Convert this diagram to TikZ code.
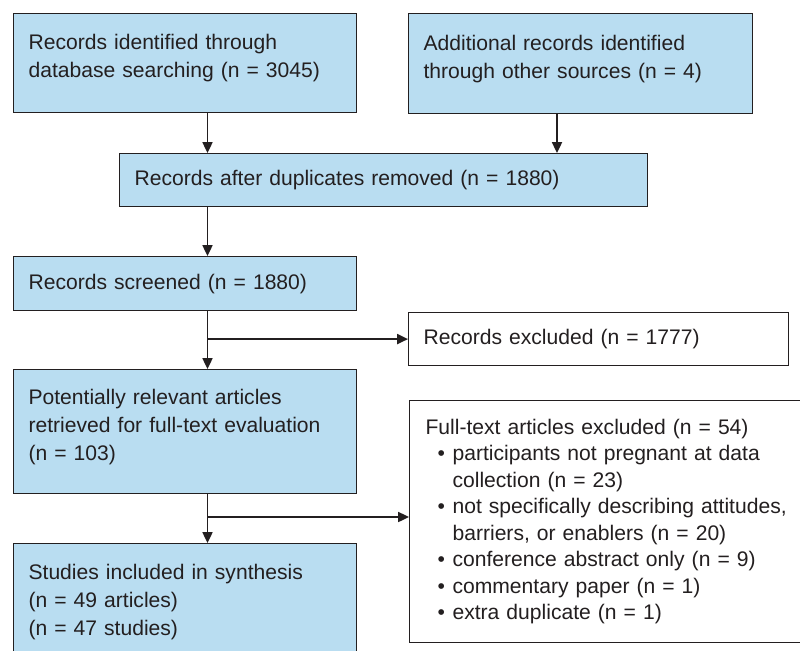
\documentclass[tikz,border=0pt]{standalone}
\usepackage{fontspec}
\setmainfont{Liberation Sans}
\usepackage{tikz}
\usetikzlibrary{arrows.meta}
\definecolor{boxblue}{RGB}{185,221,241}
\definecolor{inkgray}{RGB}{35,31,32}
\newcommand{\bulitem}{\makebox[0.675cm][l]{\hspace{0.3cm}\textbullet}}
\newcommand{\bulgap}{\hspace*{0.675cm}}
\newcommand{\liftpad}{\\[-0.35cm]\mbox{}}

\begin{document}
\begin{tikzpicture}[x=0.025cm, y=-0.025cm,
    box/.style={draw=inkgray, line width=0.8pt, anchor=north west, align=left,
        inner xsep=0.375cm, inner ysep=0pt, text=inkgray,
        font=\fontsize{15}{19.9}\selectfont},
    bluebox/.style={box, fill=boxblue},
    flow/.style={draw=inkgray, line width=1.2pt, -{Triangle[length=0.27cm, width=0.25cm]}}]
                \useasboundingbox (0,0) rectangle (800,650);
                \coordinate (colA) at (207.5,0);
                \coordinate (colB) at (557,0);
                \coordinate (split2) at (207.5,517);

                % identification
                \node[bluebox, text width=7.825cm, minimum height=2.475cm] (db) at (13,13)
                    {Records identified through\\database searching (n = 3045)\liftpad};
                \node[bluebox, text width=7.85cm, minimum height=2.5cm] (other) at (408,13)
                    {Additional records identified\\through other sources (n = 4)\liftpad};
                \node[bluebox, text width=12.45cm, minimum height=1.325cm] (dup) at (119,153)
                    {Records after duplicates removed (n = 1880)};

                % screening
                \node[bluebox, text width=7.825cm, minimum height=1.35cm] (screened) at (13,256)
                    {Records screened (n = 1880)};
                \node[box, fill=white, text width=8.75cm, minimum height=1.325cm] (recexcl) at (408,312)
                    {Records excluded (n = 1777)};

                % eligibility
                \node[bluebox, text width=7.825cm, minimum height=3.1cm] (fulltext) at (13,369)
                    {Potentially relevant articles\\retrieved for full-text evaluation\\(n = 103)\liftpad};
                \node[box, fill=white, inner xsep=0.4cm, text width=10cm, minimum height=6.05cm,
                    font=\fontsize{15}{18.8}\selectfont] (ftexcl) at (409,400)
                    {Full-text articles excluded (n = 54)\\
                     \bulitem participants not pregnant at data\\
                     \bulgap collection (n = 23)\\
                     \bulitem not specifically describing attitudes,\\
                     \bulgap barriers, or enablers (n = 20)\\
                     \bulitem conference abstract only (n = 9)\\
                     \bulitem commentary paper (n = 1)\\
                     \bulitem extra duplicate (n = 1)};

                % included
                \node[bluebox, text width=7.825cm, minimum height=2.9cm] (incl) at (13,543)
                    {Studies included in synthesis\\(n = 49 articles)\\(n = 47 studies)};

                % arrows
                \draw[flow] (db.south -| colA) -- (dup.north -| colA);
                \draw[flow] (other.south -| colB) -- (dup.north -| colB);
                \draw[flow] (dup.south -| colA) -- (screened.north -| colA);
                \draw[flow] (screened.south -| colA) -- (fulltext.north -| colA);
                \draw[flow] (colA |- recexcl.west) -- (recexcl.west);
                \draw[flow] (fulltext.south -| colA) -- (incl.north -| colA);
                \draw[flow] (split2) -- (split2 -| ftexcl.west);
            \end{tikzpicture}
\end{document}
